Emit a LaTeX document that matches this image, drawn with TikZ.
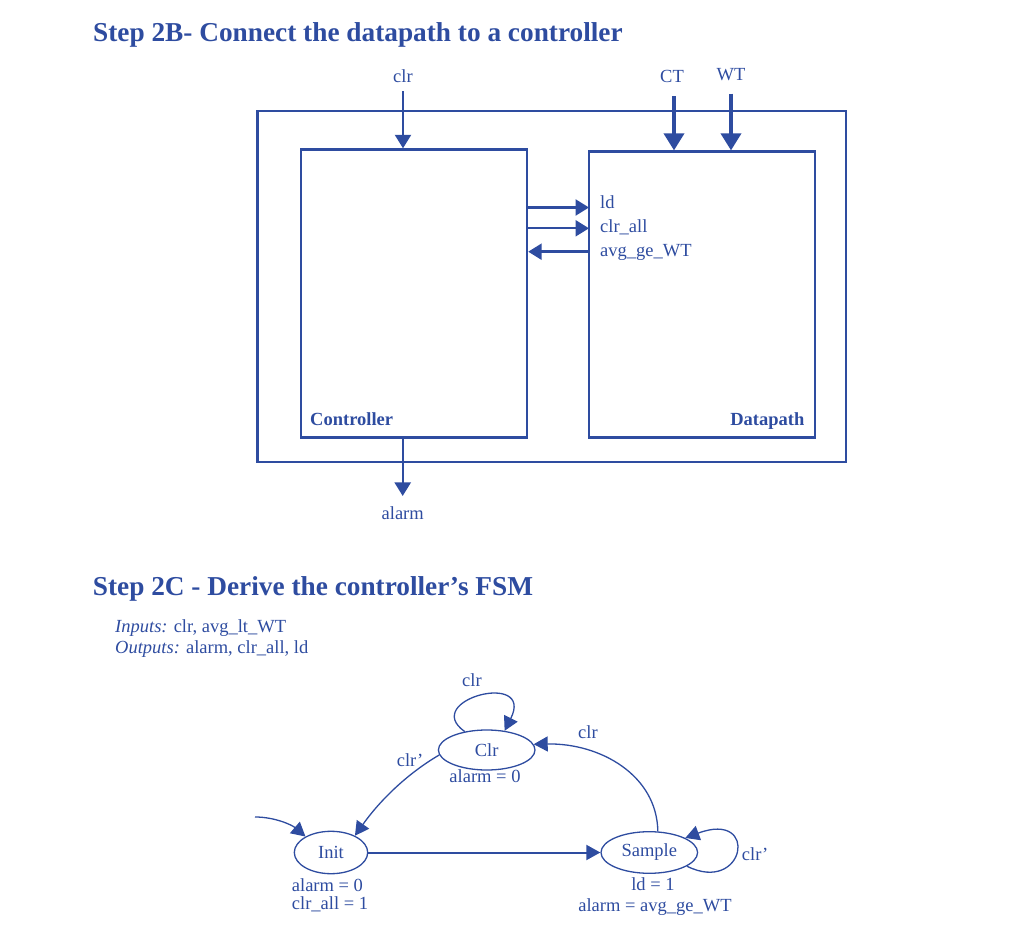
\documentclass[tikz,border=0pt]{standalone}
\usepackage{fontspec}
\setmainfont{Liberation Serif}
\usetikzlibrary{arrows.meta,shapes.geometric,positioning}
\definecolor{ink}{RGB}{46,76,160}
\begin{document}
\begin{tikzpicture}[x=1pt,y=-1pt,line join=miter,
		every node/.style={text=ink,inner sep=0pt,font=\fontsize{18.5}{20}\selectfont},
		heading/.style={anchor=base west,font=\fontsize{27.3}{30}\selectfont\bfseries},
		block/.style={draw=ink,line width=2.4pt,rectangle},
		bus/.style={draw=ink,line width=2.4pt,-{Triangle[length=13.5pt,width=16pt]}},
		widebus/.style={draw=ink,line width=3.6pt,-{Triangle[length=17pt,width=20pt]}},
		state/.style={draw=ink,line width=1.3pt,ellipse},
		trans/.style={draw=ink,line width=1.3pt,-{Triangle[length=14pt,width=15pt]}},
		lbl/.style={anchor=base}]
	\useasboundingbox (0,0) rectangle (1010,949);
	%%Step 2B
	\node[heading] (titleB) at (93,42) {Step 2B- Connect the datapath to a controller};
	\node[block,minimum width=588.5pt,minimum height=351pt] (top) at (551.75,286.5) {};
	\node[block,minimum width=226pt,minimum height=288pt] (ctrl) at (414,293.5) {};
	\node[block,minimum width=226pt,minimum height=286pt] (dp) at (702,294.6) {};
	\node[anchor=base west,font=\fontsize{18.5}{20}\selectfont\bfseries] (ctrlname) at (310,425.7) {Controller};
	\node[anchor=base east,font=\fontsize{18.5}{20}\selectfont\bfseries] (dpname) at (804.5,425.7) {Datapath};
	%%Inputs and outputs
	\node[lbl] (inClr) at (403,82.7) {clr};
	\node[lbl] (inCT) at (672,82.7) {CT};
	\node[lbl] (inWT) at (731,80.7) {WT};
	\node[lbl] (outAlarm) at (402.7,519) {alarm};
	\draw[bus] ([yshift=-8pt]inClr.south) -- (inClr.south |- ctrl.north);
	\draw[widebus] ([xshift=2pt,yshift=-13pt]inCT.south) -- ([xshift=2pt]inCT.south |- dp.north);
	\draw[widebus] ([yshift=-12.5pt]inWT.south) -- (inWT.south |- dp.north);
	\draw[bus] (outAlarm.north |- ctrl.south) -- ([yshift=10pt]outAlarm.north);
	%%Control signals
	\foreach \n/\y/\b/\t in {ld/207.5/208.3/ld,clrall/228.3/232.6/clr\_all,avgge/251.7/256.7/avg\_ge\_WT}{
			\coordinate (\n) at (589,\y);
			\node[anchor=base west] (\n name) at (600,\b) {\t};
		}
	\draw[bus] (ctrl.east |- ld) -- (ld);
	\draw[bus] (ctrl.east |- clrall) -- (clrall);
	\draw[bus] (avgge) -- (ctrl.east |- avgge);
	%%Step 2C
	\node[heading] (titleC) at (92.7,595) {Step 2C - Derive the controller’s FSM};
	\node[anchor=base west] (ins) at (115,632) {\textit{Inputs:} clr, avg\_lt\_WT};
	\node[anchor=base west] (outs) at (115,653.3) {\textit{Outputs:} alarm, clr\_all, ld};
	%%States
	\node[state,minimum width=96.6pt,minimum height=40pt] (sClr) at (486.7,750) {Clr};
	\node[state,minimum width=73.4pt,minimum height=42.4pt] (sInit) at (331,852.5) {Init};
	\node[state,minimum width=96.6pt,minimum height=41.6pt] (sSample) at (649.3,852.5) {Sample};
	\node[lbl] (mClr) at (485,782.7) {alarm = 0};
	\node[anchor=base west] (mInitA) at (291.7,891.7) {alarm = 0};
	\node[anchor=base west] (mInitB) at (291.7,909) {clr\_all = 1};
	\node[lbl] (mSampleA) at (653,890.7) {ld = 1};
	\node[lbl] (mSampleB) at (655,911) {alarm = avg\_ge\_WT};
	%%Transitions
	\coordinate (start) at (255,817);
	\draw[trans] (start) .. controls (275,817) and (292,825) .. (sInit.148);
	\draw[trans] (sClr.140) .. controls (420,700) and (535,670) .. (sClr.47);
	\draw[trans] (sClr.186) .. controls (405,775) and (378,803) .. (sInit.35);
	\draw[trans,line width=2pt] (sInit.east) -- (sSample.west);
	\draw[trans] (sSample.68) .. controls (657,775) and (600,743) .. (sClr.7);
	\draw[trans] (sSample.-20) .. controls (745,895) and (760,810) .. (sSample.22);
	\node[lbl] (tClrClr) at (472,686.7) {clr};
	\node[lbl] (tClrInit) at (410,766) {clr’};
	\node[lbl] (tSampleClr) at (588,738) {clr};
	\node[anchor=base west] (tSampleSample) at (741.7,860) {clr’};
\end{tikzpicture}
\end{document}
